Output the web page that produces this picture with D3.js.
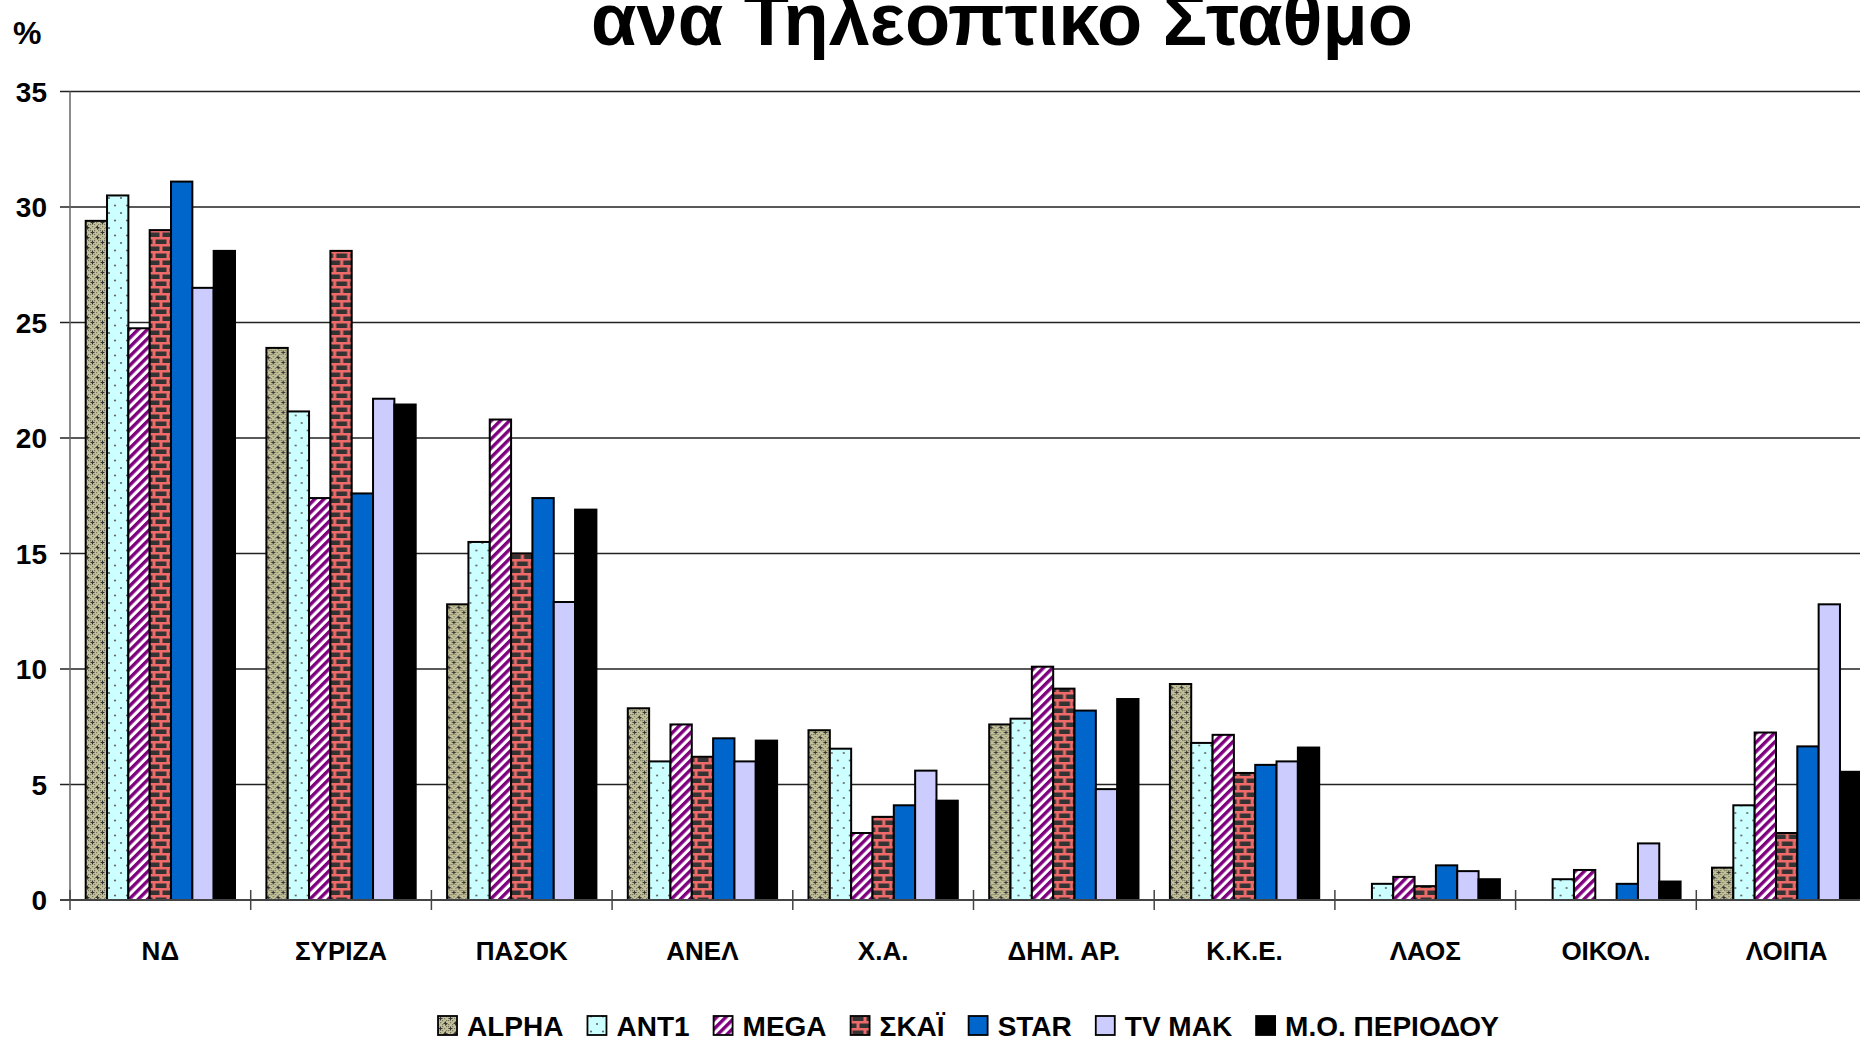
<!DOCTYPE html>
<html>
<head>
<meta charset="utf-8">
<script src="https://cdn.jsdelivr.net/npm/d3@7"></script>
<style>
  html, body { margin: 0; padding: 0; background: #fff; overflow: hidden; }
  svg { display: block; }
  text { font-family: "Liberation Sans", Arial, sans-serif; font-weight: bold; fill: #000; }
</style>
</head>
<body>
<svg id="chart" width="1860" height="1041"></svg>
<script>
// ---- data ----
const categories = ["ΝΔ", "ΣΥΡΙΖΑ", "ΠΑΣΟΚ", "ΑΝΕΛ", "Χ.Α.", "ΔΗΜ. ΑΡ.", "Κ.Κ.Ε.", "ΛΑΟΣ", "ΟΙΚΟΛ.", "ΛΟΙΠΑ"];
const seriesNames = ["ALPHA", "ANT1", "MEGA", "ΣΚΑΪ", "STAR", "TV MAK", "Μ.Ο. ΠΕΡΙΟΔΟΥ"];
const alpha = [29.4, 23.9, 12.8, 8.3, 7.35, 7.6, 9.35, 0, 0, 1.4];
const ant1  = [30.5, 21.15, 15.5, 6.0, 6.55, 7.85, 6.8, 0.7, 0.9, 4.1];
const mega  = [24.75, 17.4, 20.8, 7.6, 2.9, 10.1, 7.15, 1.0, 1.3, 7.25];
const skai  = [29.0, 28.1, 15.0, 6.2, 3.6, 9.15, 5.5, 0.6, 0, 2.9];
const star  = [31.1, 17.6, 17.4, 7.0, 4.1, 8.2, 5.85, 1.5, 0.7, 6.65];
const tvmak = [26.5, 21.7, 12.9, 6.0, 5.6, 4.8, 6.0, 1.25, 2.45, 12.8];
const mo    = [28.1, 21.45, 16.9, 6.9, 4.3, 8.7, 6.6, 0.9, 0.8, 5.55];
const yTicks = [0, 5, 10, 15, 20, 25, 30, 35];
const titleText = "ανα Τηλεοπτικο Σταθμο";
const yUnit = "%";

const seriesValues = [alpha, ant1, mega, skai, star, tvmak, mo];
const fills = ["url(#pAlpha)", "url(#pAnt1)", "url(#pMega)", "url(#pSkai)", "#0066cc", "#ccccff", "#000000"];

// ---- layout ----
const svg = d3.select("#chart");
const left = 70, bandW = 180.7;
const right = left + bandW * categories.length;
const x0 = d3.scaleBand().domain(categories).range([left, right]).padding(0);
const x1 = d3.scaleBand().domain(seriesNames).range([15.7, bandW - 15.7]).padding(0);
const y = d3.scaleLinear().domain([0, 35]).range([900, 91.5]);

// ---- patterns ----
const defs = svg.append("defs");
// ALPHA: khaki checker with crosses
const pa = defs.append("pattern").attr("id", "pAlpha").attr("patternUnits", "userSpaceOnUse")
  .attr("width", 10).attr("height", 10);
pa.append("rect").attr("width", 10).attr("height", 10).attr("fill", "#c4c29a");
for (let i = 0; i < 5; i++) for (let j = 0; j < 5; j++) {
  if ((i + j) % 2 === 0) pa.append("rect").attr("x", i * 2).attr("y", j * 2).attr("width", 1.2).attr("height", 1.2).attr("fill", "#77755d");
}
[[2.5, 2.5], [7.5, 7.5]].forEach(([cx, cy]) => {
  pa.append("path").attr("d", `M${cx - 2},${cy}H${cx + 2}M${cx},${cy - 2}V${cy + 2}`).attr("stroke", "#333").attr("stroke-width", 1.1);
});
// ANT1: light cyan with dots
const pb = defs.append("pattern").attr("id", "pAnt1").attr("patternUnits", "userSpaceOnUse")
  .attr("width", 12).attr("height", 15);
pb.append("rect").attr("width", 12).attr("height", 15).attr("fill", "#ccffff");
pb.append("circle").attr("cx", 3).attr("cy", 3).attr("r", 1.1).attr("fill", "#666");
pb.append("circle").attr("cx", 9).attr("cy", 10.5).attr("r", 1.1).attr("fill", "#666");
// MEGA: purple diagonal stripes
const pc = defs.append("pattern").attr("id", "pMega").attr("patternUnits", "userSpaceOnUse")
  .attr("width", 6.5).attr("height", 6.5).attr("patternTransform", "rotate(45)");
pc.append("rect").attr("width", 6.5).attr("height", 6.5).attr("fill", "#ffffff");
pc.append("rect").attr("width", 3.4).attr("height", 6.5).attr("fill", "#7f007f");
// SKAI: bricks
const pd = defs.append("pattern").attr("id", "pSkai").attr("patternUnits", "userSpaceOnUse")
  .attr("width", 14).attr("height", 14);
pd.append("rect").attr("width", 14).attr("height", 14).attr("fill", "#f06a6a");
pd.append("rect").attr("x", 1.5).attr("y", 1.5).attr("width", 11).attr("height", 4.5).attr("fill", "#333333");
pd.append("rect").attr("x", -6).attr("y", 8.5).attr("width", 11.5).attr("height", 4.5).attr("fill", "#333333");
pd.append("rect").attr("x", 8.5).attr("y", 8.5).attr("width", 11.5).attr("height", 4.5).attr("fill", "#333333");

// ---- gridlines ----
svg.append("g").selectAll("line").data(yTicks.filter(d => d > 0)).join("line")
  .attr("x1", left - 10).attr("x2", 1860)
  .attr("y1", d => y(d)).attr("y2", d => y(d))
  .attr("stroke", "#222").attr("stroke-width", 1.3);

// ---- y axis ----
svg.append("line").attr("x1", left).attr("x2", left).attr("y1", y(35)).attr("y2", y(0))
  .attr("stroke", "#666").attr("stroke-width", 1.5);
svg.append("g").selectAll("text").data(yTicks).join("text")
  .attr("x", 47).attr("y", d => y(d)).attr("dy", "0.36em")
  .attr("text-anchor", "end").attr("font-size", 28)
  .text(d => d);
svg.append("text").attr("x", 13).attr("y", 44).attr("font-size", 32).text(yUnit);

// ---- bars ----
const groups = svg.append("g").selectAll("g").data(categories).join("g")
  .attr("transform", d => `translate(${x0(d)},0)`);
groups.selectAll("rect")
  .data((c, ci) => seriesNames.map((s, si) => ({ s, si, v: seriesValues[si][ci] })).filter(d => d.v > 0))
  .join("rect")
  .attr("x", d => x1(d.s))
  .attr("y", d => y(d.v))
  .attr("width", x1.bandwidth())
  .attr("height", d => y(0) - y(d.v))
  .attr("fill", d => fills[d.si])
  .attr("stroke", "#000").attr("stroke-width", 2);

// ---- x axis ----
svg.append("line").attr("x1", left - 10).attr("x2", 1860).attr("y1", y(0)).attr("y2", y(0))
  .attr("stroke", "#444").attr("stroke-width", 2.2);
svg.append("g").selectAll("line").data(d3.range(categories.length + 1)).join("line")
  .attr("x1", i => left + i * bandW).attr("x2", i => left + i * bandW)
  .attr("y1", y(0) - 10).attr("y2", y(0) + 10)
  .attr("stroke", "#444").attr("stroke-width", 1.5);
svg.append("g").selectAll("text").data(categories).join("text")
  .attr("x", d => x0(d) + x0.bandwidth() / 2).attr("y", 960)
  .attr("text-anchor", "middle").attr("font-size", 26)
  .text(d => d);

// ---- title ----
svg.append("text").attr("x", 1002).attr("y", 45).attr("text-anchor", "middle")
  .attr("font-size", 74).text(titleText);

// ---- legend ----
const legend = svg.append("g");
let lx = 0;
seriesNames.forEach((s, i) => {
  const g = legend.append("g");
  g.append("rect").attr("x", lx).attr("y", -20).attr("width", 19).attr("height", 19)
    .attr("fill", fills[i]).attr("stroke", "#000").attr("stroke-width", 1.8);
  const t = g.append("text").attr("x", lx + 29).attr("y", 0).attr("font-size", 28).text(s);
  const w = t.node().getComputedTextLength();
  lx += 29 + w + 24;
});
const legendW = lx - 24;
legend.attr("transform", `translate(${(left + right) / 2 - legendW / 2 - 5},1036)`);
</script>
</body>
</html>
